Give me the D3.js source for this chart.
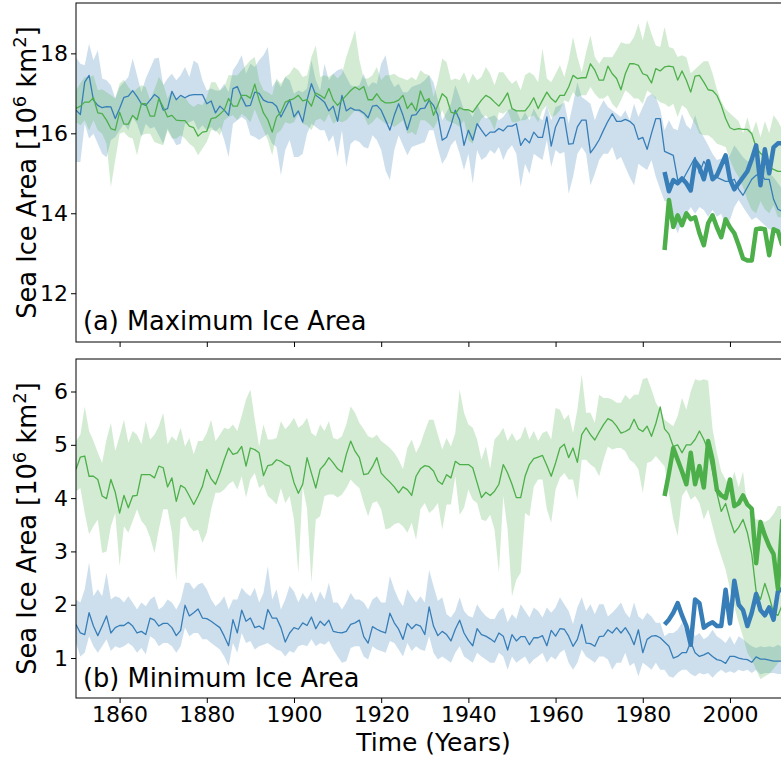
<!DOCTYPE html>
<html>
<head>
<meta charset="utf-8">
<script src="https://cdn.jsdelivr.net/npm/d3@7"></script>
<style>
body { margin: 0; background: #fff; }
svg { display: block; font-family: 'DejaVu Sans', sans-serif; }
</style>
</head>
<body>
<svg></svg>
<script>
// years of the model runs and of the observations
const years = d3.range(1850, 2013);
const obsYears = d3.range(1985, 2013);
const xTicks = [1860, 1880, 1900, 1920, 1940, 1960, 1980, 2000];

// (a) maximum ice area, 10^6 km^2
const aBlueMean = [
16.58,16.47,17.28,17.45,16.83,16.70,16.64,16.67,16.66,16.37,
16.62,16.90,16.93,17.07,16.92,16.74,16.70,16.83,16.97,16.89,
16.58,16.62,17.05,16.84,16.95,16.89,16.95,16.97,16.97,16.97,
16.74,16.81,16.51,16.68,16.58,16.45,17.12,17.17,16.90,16.68,
16.70,17.03,17.00,16.83,16.78,16.77,16.68,16.41,16.62,16.84,
16.41,16.56,16.28,16.83,17.24,16.95,16.87,16.78,16.56,16.68,
16.30,16.95,16.56,16.64,16.58,16.58,16.51,16.39,16.68,16.70,
16.58,16.33,16.08,16.45,16.74,16.45,16.09,16.45,16.47,16.62,
16.63,16.83,16.70,16.45,15.83,15.90,16.20,16.58,16.33,15.70,
16.08,15.83,16.24,16.08,15.93,16.03,16.03,16.12,16.06,16.18,
16.18,16.24,15.70,15.87,15.76,16.03,15.90,15.90,16.41,15.68,
16.16,16.39,16.39,15.73,15.74,16.16,16.33,16.33,15.51,15.66,
15.84,16.08,16.30,16.49,16.30,16.30,16.35,16.30,16.20,15.85,
15.90,15.60,16.00,16.37,16.37,15.55,15.50,15.45,14.85,14.80,
15.00,15.20,15.40,15.00,15.30,15.10,14.90,14.90,14.85,14.80,
14.80,14.85,14.60,14.45,14.65,14.85,14.95,15.00,14.85,14.85,
14.35,14.10,14.05];
const aBlueHi = [
17.90,17.74,17.70,18.24,17.83,18.08,17.37,17.33,17.20,16.87,
17.16,17.28,17.41,17.87,17.45,17.03,17.37,17.62,17.87,17.89,
17.20,17.37,17.49,17.33,17.45,17.66,17.41,17.82,17.74,17.33,
17.07,17.12,17.07,17.07,17.24,17.03,17.58,17.74,17.95,17.49,
17.74,17.66,17.83,17.95,18.16,17.16,17.33,17.16,17.41,17.33,
16.99,17.07,17.03,17.12,17.83,17.33,17.07,17.74,17.33,17.49,
17.58,17.62,17.41,17.20,17.16,17.20,17.49,17.16,17.28,17.24,
17.74,17.95,17.37,17.16,17.24,17.03,17.03,17.16,17.20,17.24,
17.33,17.45,17.28,16.83,16.33,16.53,16.74,17.20,16.91,16.58,
16.58,16.41,16.74,16.49,16.37,16.41,16.45,16.33,16.41,16.58,
16.62,16.58,16.33,16.53,16.33,16.62,16.41,16.33,16.70,16.33,
16.66,16.70,16.78,16.24,16.74,17.28,16.91,16.83,16.74,16.33,
16.62,16.83,16.66,16.58,16.49,16.41,16.58,16.33,16.74,16.41,
16.66,16.91,16.99,16.90,16.60,16.08,16.33,16.12,16.08,16.49,
16.20,16.10,16.45,16.10,15.90,15.70,15.49,15.33,15.37,15.33,
15.45,15.70,15.55,15.40,15.30,15.30,15.40,15.10,15.20,15.00,
14.90,14.75,14.60];
const aBlueLo = [
15.28,15.28,16.24,15.87,15.99,15.74,15.49,15.40,15.83,15.91,
16.08,16.24,16.08,16.41,16.24,15.91,16.24,16.12,16.16,15.95,
15.74,16.12,15.91,15.70,15.74,16.24,16.28,16.33,16.08,16.20,
16.08,16.16,16.03,16.16,15.83,15.41,16.24,16.33,16.41,16.33,
15.95,15.91,15.83,15.91,15.99,15.74,15.66,14.95,15.58,15.83,
15.41,15.41,15.49,15.99,16.24,16.16,16.08,16.08,15.78,15.95,
15.41,16.08,15.16,15.74,15.83,15.78,15.66,15.62,15.95,15.83,
15.58,15.07,14.83,15.58,15.95,15.70,15.45,15.66,15.70,15.74,
15.78,16.08,16.08,15.62,15.24,15.41,15.70,15.83,15.49,15.08,
15.49,14.74,15.58,15.33,15.41,15.58,15.49,15.66,15.33,15.58,
15.70,15.49,14.66,15.24,14.99,15.49,15.41,15.33,15.83,15.16,
15.58,15.49,15.53,14.49,14.91,15.49,15.66,15.49,14.70,14.99,
15.33,15.49,15.49,15.66,15.33,15.41,15.16,14.91,14.70,15.24,
15.16,15.08,15.33,14.91,14.60,14.30,14.30,13.80,13.50,13.80,
13.99,14.16,13.99,14.16,14.08,13.91,14.08,13.91,13.99,13.66,
13.83,14.16,14.33,14.16,13.99,13.83,13.90,13.80,13.70,13.60,
13.60,13.50,13.50];
const aGreenMean = [
16.62,16.68,16.78,16.78,16.89,16.51,16.49,16.33,16.12,16.08,
16.53,16.23,16.23,16.45,16.34,16.74,16.74,16.43,16.43,16.87,
16.66,16.41,16.45,16.33,16.32,16.32,16.18,16.14,15.93,16.03,
16.05,16.37,16.39,16.48,16.58,16.87,16.68,16.68,16.95,16.95,
16.88,17.23,16.83,16.51,16.34,16.03,16.41,16.53,16.78,16.83,
16.87,16.95,16.81,16.84,16.68,17.01,16.95,16.87,17.12,16.83,
16.70,16.83,16.95,17.07,17.16,17.09,17.17,16.84,16.84,16.99,
16.83,16.76,16.76,16.78,16.83,16.95,16.62,16.76,16.56,17.06,
16.80,16.87,16.45,16.70,16.99,16.89,16.53,16.49,16.64,16.59,
16.59,16.53,16.68,16.83,16.95,16.89,16.78,16.68,16.83,17.01,
16.62,16.56,16.56,16.56,16.70,16.89,16.62,16.83,17.03,16.87,
16.78,16.95,16.95,17.16,17.45,17.37,17.39,17.39,17.74,17.58,
17.33,17.33,17.68,17.49,17.37,17.09,17.49,17.74,17.74,17.70,
17.49,17.45,17.26,17.62,17.56,17.66,17.68,17.66,17.33,17.56,
17.33,17.03,17.43,17.45,17.28,17.09,17.07,16.95,16.70,16.37,
16.14,16.09,16.12,16.10,16.10,15.99,15.65,15.50,15.40,15.15,
15.10,15.05,15.05];
const aGreenHi = [
17.08,17.25,17.41,17.40,17.45,17.08,17.10,17.03,16.95,16.87,
17.24,17.34,17.16,17.03,17.12,17.20,17.16,16.83,17.10,17.41,
17.24,16.87,17.07,16.83,16.90,16.91,16.74,16.66,16.74,16.70,
16.91,17.28,17.28,17.07,17.16,17.45,17.45,17.45,17.58,17.70,
17.83,17.91,17.33,17.08,17.03,16.95,17.37,17.24,17.41,17.49,
17.66,17.58,17.41,17.45,17.91,18.20,17.41,17.45,17.41,17.49,
17.37,17.49,17.91,18.24,18.58,17.83,17.37,17.37,17.45,17.66,
17.33,17.45,17.45,17.49,17.41,17.37,17.33,17.41,17.33,17.58,
17.49,17.45,16.91,17.33,17.87,17.78,17.33,17.37,17.33,17.53,
17.24,17.49,17.33,17.41,17.66,17.49,17.20,17.53,17.53,17.37,
17.24,17.33,17.08,17.45,17.53,17.45,17.28,18.12,17.37,17.28,
17.49,17.70,17.41,17.83,18.41,17.91,17.53,18.03,18.45,17.91,
17.74,17.91,17.90,17.90,18.08,18.28,18.24,18.24,18.41,18.74,
18.33,18.83,18.49,18.20,18.16,18.66,18.16,18.12,17.91,17.95,
17.90,17.50,17.60,17.70,17.80,17.80,17.50,17.10,16.80,16.60,
16.50,16.40,16.30,16.00,16.40,16.00,16.30,15.90,16.30,16.00,
16.45,16.30,16.10];
const aGreenLo = [
16.28,16.20,16.33,16.08,16.33,16.08,15.99,15.74,14.66,15.33,
15.99,16.03,15.91,15.87,15.45,15.95,15.99,15.99,15.78,15.74,
15.70,16.08,15.87,15.87,15.95,15.87,15.74,15.66,15.45,15.62,
15.78,16.08,16.08,15.95,16.33,16.41,16.45,16.33,16.49,16.41,
16.28,16.60,16.33,16.08,15.83,15.45,15.99,16.08,16.28,16.24,
16.28,16.49,16.24,16.20,16.08,16.33,16.37,16.28,16.49,16.24,
16.33,16.28,16.33,16.45,16.58,16.53,16.45,16.20,16.28,16.41,
16.33,16.24,16.24,16.16,16.24,16.33,15.99,16.03,15.95,16.33,
16.33,16.24,16.12,16.33,16.58,16.33,16.28,16.24,16.16,16.33,
15.83,15.74,16.16,16.37,16.45,16.33,16.08,16.53,16.49,16.58,
16.28,16.28,16.33,16.33,16.41,16.45,16.28,16.58,16.70,16.41,
16.45,16.58,16.83,16.78,17.03,16.91,16.95,16.95,17.16,16.99,
16.87,16.87,16.95,16.74,16.62,16.83,17.08,16.99,16.87,16.87,
16.74,17.07,16.99,16.87,16.78,16.74,16.66,16.74,16.41,16.70,
16.62,16.41,16.24,15.99,15.95,15.95,15.87,15.74,15.70,15.66,
15.33,15.08,14.91,14.66,14.33,14.08,14.00,14.30,14.10,14.00,
14.20,13.90,13.90];
const aBlueObs = [15.03,14.55,14.83,14.75,14.87,14.75,14.57,15.30,15.15,14.85,
15.30,14.85,14.95,15.20,15.45,14.85,14.60,14.75,14.90,15.05,
15.35,15.70,14.70,15.60,15.00,15.65,15.75,15.75];
const aGreenObs = [13.08,14.33,13.66,13.95,13.70,14.00,13.85,13.90,13.50,13.20,
13.75,13.95,13.65,13.40,13.85,13.65,13.50,13.20,12.87,12.82,
12.82,13.60,13.62,13.60,12.95,13.60,13.55,13.20];

// (b) minimum ice area, 10^6 km^2
const bBlueMean = [
1.63,1.47,1.44,1.85,1.60,1.42,1.60,1.79,1.47,1.57,
1.61,1.61,1.67,1.60,1.47,1.50,1.44,1.75,1.71,1.60,
1.65,1.65,1.57,1.42,1.52,1.99,1.79,1.85,1.92,1.75,
1.74,1.69,1.63,1.57,1.41,1.23,1.72,1.47,1.90,1.69,
1.75,1.57,1.60,1.54,1.91,1.75,1.75,1.57,1.30,1.47,
1.57,1.54,1.66,1.61,1.77,1.55,1.69,1.61,1.71,1.50,
1.48,1.47,1.50,1.63,1.66,1.71,1.40,1.28,1.59,1.54,
1.50,1.47,1.84,1.66,1.54,1.35,1.65,1.55,1.63,1.60,
1.44,1.96,1.60,1.42,1.50,1.44,1.32,1.54,1.71,1.47,
1.33,1.23,1.55,1.44,1.41,1.36,1.30,1.47,1.41,1.15,
1.44,1.32,1.40,1.40,1.25,1.38,1.38,1.42,1.23,1.52,
1.41,1.55,1.54,1.41,1.22,1.35,1.63,1.28,1.27,1.22,
1.40,1.41,1.53,1.47,1.57,1.47,1.57,1.44,1.25,1.53,
1.10,1.35,1.41,1.42,1.38,1.30,1.22,1.00,1.03,1.10,
1.10,1.30,1.10,1.03,1.06,1.10,1.03,0.97,0.95,0.90,
1.03,1.03,1.00,0.98,0.97,0.92,1.02,0.98,0.98,0.96,
0.94,0.94,0.94];
const bBlueHi = [
2.10,2.04,2.29,2.79,2.16,2.29,2.16,2.60,2.10,2.16,
2.13,2.04,2.16,2.04,1.91,2.04,1.97,2.10,2.16,1.91,
1.97,2.10,2.04,1.91,2.07,2.41,2.41,2.29,2.38,2.41,
2.29,2.10,1.97,2.04,2.16,1.91,2.10,2.10,2.32,2.22,
2.16,2.32,2.04,2.22,2.72,2.10,2.29,1.91,2.10,2.35,
2.25,2.04,2.22,2.10,2.25,2.04,2.25,2.10,2.41,2.04,
2.04,1.91,2.04,2.22,2.10,2.10,2.04,1.91,2.10,2.16,
2.04,2.04,2.54,2.29,2.10,1.97,2.29,2.16,2.04,2.16,
2.04,2.65,2.35,2.07,2.14,1.82,1.76,1.88,2.14,1.88,
1.79,1.76,2.01,1.88,1.79,1.73,1.73,1.88,1.95,1.67,
1.82,1.73,2.01,1.88,1.76,1.95,1.88,1.76,1.95,1.85,
1.95,2.14,2.01,1.88,1.64,1.95,2.14,1.88,2.01,1.82,
2.01,2.01,1.78,1.85,1.94,2.04,1.85,1.75,2.04,1.78,
1.72,1.85,1.78,1.66,1.66,1.41,1.47,1.47,1.53,1.66,
1.47,1.60,1.41,1.47,1.35,1.41,1.53,1.41,1.35,1.28,
1.41,1.25,1.41,1.35,1.28,1.22,1.19,1.22,1.20,1.22,
1.20,1.25,1.20];
const bBlueLo = [
1.28,1.03,1.10,1.41,1.22,1.10,1.22,1.35,1.13,1.22,
1.19,1.22,1.28,1.22,1.10,1.19,1.07,1.41,1.35,1.22,
1.28,1.28,1.22,1.10,1.22,1.57,1.41,1.47,1.47,1.35,
1.35,1.28,1.22,1.16,1.03,0.85,1.28,1.10,1.47,1.28,
1.32,1.16,1.22,1.25,1.28,1.22,1.16,1.13,1.03,1.13,
1.10,1.22,1.25,1.22,1.35,1.22,1.28,1.25,1.32,1.16,
1.03,0.91,0.94,1.19,1.22,1.22,1.03,0.97,1.22,1.16,
1.13,1.10,1.32,1.28,1.16,1.03,1.28,1.13,1.22,1.16,
1.13,1.41,1.10,0.97,1.03,0.97,0.91,1.10,1.22,1.03,
0.97,0.91,1.10,1.03,0.97,0.91,0.91,1.10,1.03,0.78,
1.03,0.91,0.97,1.03,0.88,0.97,1.03,1.10,0.91,1.03,
0.97,1.10,1.16,0.91,0.78,0.91,1.16,1.03,0.97,0.91,
1.03,1.03,0.97,0.78,0.91,0.91,1.10,0.85,0.91,0.66,
0.91,0.85,0.78,0.91,0.78,0.78,0.66,0.63,0.72,0.78,
0.78,0.70,0.66,0.72,0.69,0.72,0.63,0.72,0.78,0.72,
0.75,0.72,0.78,0.75,0.78,0.72,0.78,0.69,0.72,0.72,
0.72,0.70,0.70];
const bGreenMean = [
4.54,4.77,4.79,4.41,4.41,4.35,4.04,3.99,4.35,4.11,
3.72,4.05,3.82,4.04,4.05,4.44,4.44,4.44,4.38,4.60,
4.57,4.21,4.38,3.94,4.24,4.19,4.04,3.88,4.04,4.22,
4.54,4.36,4.26,4.47,4.72,4.94,4.82,4.85,4.97,4.60,
4.94,4.91,4.85,4.42,4.61,4.63,4.72,4.69,4.63,4.60,
4.29,4.09,4.26,4.76,4.47,4.19,4.54,4.63,4.76,4.66,
4.55,4.49,4.82,5.07,4.88,4.76,4.44,4.46,4.59,4.76,
4.47,4.38,4.30,4.21,4.10,4.21,4.16,4.05,4.41,4.55,
4.61,4.59,4.51,4.32,4.26,4.44,4.38,4.69,4.63,4.63,
4.63,4.57,4.29,4.01,4.11,4.05,4.13,4.26,4.63,4.47,
4.26,4.01,4.01,4.41,4.63,4.74,4.77,4.80,4.61,4.41,
4.66,4.94,5.01,4.76,4.94,4.67,5.19,5.32,5.19,5.09,
5.24,5.38,5.49,5.45,5.35,5.22,5.25,5.30,5.48,5.30,
5.25,5.35,5.16,5.40,5.71,5.30,5.20,4.97,5.00,4.85,
5.00,5.00,5.10,5.26,5.10,4.90,4.50,4.10,3.75,3.90,
3.60,3.35,3.45,3.60,3.35,2.95,2.25,2.10,2.40,2.15,
1.85,1.80,2.00];
const bGreenHi = [
5.07,5.19,5.72,5.26,5.07,4.85,4.66,5.10,5.41,4.88,
5.16,5.47,5.04,5.26,5.19,5.01,5.44,5.10,5.19,5.35,
5.60,5.01,5.16,5.07,5.32,4.97,5.13,4.82,5.07,5.07,
5.22,5.47,5.07,5.19,5.32,5.29,5.38,5.26,5.54,5.85,
6.04,5.47,4.97,5.38,5.10,5.10,5.13,5.44,5.29,5.38,
5.51,5.32,5.38,5.51,5.22,5.16,5.38,5.26,5.44,5.13,
5.10,5.16,5.38,5.72,5.60,5.41,5.29,5.16,5.13,5.19,
5.07,5.01,4.94,4.85,4.72,4.54,4.94,5.10,4.85,5.01,
5.26,5.47,5.47,5.19,4.91,5.13,4.97,5.22,6.04,5.60,
5.38,5.32,5.10,4.72,4.97,4.54,5.10,5.19,5.32,5.07,
5.22,5.07,5.13,5.35,5.10,5.26,5.07,5.22,5.26,5.10,
5.69,5.66,5.47,5.57,5.22,5.66,6.32,5.60,5.60,5.41,
5.94,5.88,5.88,5.85,5.79,5.79,5.94,5.85,5.94,5.94,
6.23,6.26,6.04,5.79,5.66,5.47,5.41,5.35,5.54,5.88,
5.66,6.00,6.23,6.20,6.23,6.20,5.30,4.85,4.50,4.35,
4.20,4.50,4.20,4.50,3.80,3.70,3.60,3.60,3.55,3.60,
3.70,3.85,3.85];
const bGreenLo = [
4.13,4.19,3.72,3.32,3.47,3.60,2.97,3.00,3.47,3.72,
2.72,3.47,3.35,3.57,3.79,3.57,3.47,3.26,2.97,3.41,
3.79,3.79,3.35,2.45,3.60,3.66,3.47,3.38,3.41,3.16,
3.35,3.79,4.10,4.10,4.16,4.26,4.32,4.16,4.41,4.01,
4.35,4.47,4.19,4.26,4.04,3.97,3.88,4.19,3.91,4.04,
3.60,2.60,4.22,3.80,2.41,3.60,3.66,4.04,4.07,4.07,
4.01,4.07,4.19,4.35,4.26,4.19,3.91,3.66,3.91,3.94,
3.79,3.41,3.44,3.51,3.54,3.47,3.35,3.54,3.22,3.79,
3.91,3.72,3.79,3.91,3.41,3.88,3.88,4.41,3.69,3.82,
4.16,3.97,3.91,3.60,3.57,3.69,3.41,2.60,4.04,3.41,
2.16,2.47,2.60,3.72,3.66,4.22,4.35,4.35,3.79,3.54,
4.16,4.38,4.47,4.35,4.35,3.97,4.72,4.72,4.63,4.57,
4.41,4.72,4.97,4.91,4.94,4.94,4.88,4.72,4.66,4.54,
4.10,4.66,4.69,4.79,4.69,4.60,4.10,3.60,3.29,4.04,
4.16,3.97,4.04,3.91,3.60,3.79,3.47,3.16,2.91,2.66,
2.29,1.97,1.66,1.40,1.10,0.97,0.78,0.60,0.66,0.70,
0.80,0.90,1.00];
const bBlueObs = [1.63,1.72,1.85,2.03,1.80,1.60,1.25,2.10,2.03,1.57,
1.63,1.67,1.60,1.60,2.28,1.65,2.45,2.00,1.90,1.60,
1.85,2.20,1.90,1.80,1.95,1.72,2.25,2.30];
const bGreenObs = [4.04,4.47,4.94,4.72,4.50,4.26,4.85,4.26,4.60,4.20,
5.07,4.72,4.15,4.05,4.00,4.35,3.85,3.90,4.05,3.88,
3.80,2.78,3.55,3.30,3.10,2.95,2.30,3.60];

let w = 781;
let h = 759;
const left = 76;
const right = 791;
const blue = '#377eb8';
const green = '#4daf4a';
const font = "'DejaVu Sans', sans-serif";

const svg = d3.select('svg')
  .attr('width', w)
  .attr('height', h)

const x = d3.scaleLinear()
  .domain([1850, 2014])
  .range([left, right])

function styleAxis(g) {
  g.style('font-family', font).style('font-size', '22px')
  g.select('.domain').remove()
  g.selectAll('.tick line').attr('stroke', '#000').attr('stroke-width', 1)
  g.selectAll('.tick text')
    .attr('fill', '#000')
    .style('font-family', font)
    .style('font-size', '22px')
}

function drawPanel(p) {
  const y = d3.scaleLinear()
    .domain(p.yDomain)
    .range([p.bottom, p.top])

  svg.append('clipPath')
    .attr('id', 'clip-' + p.id)
    .append('rect')
    .attr('x', left)
    .attr('y', p.top)
    .attr('width', right - left)
    .attr('height', p.bottom - p.top)

  const plot = svg.append('g').attr('clip-path', 'url(#clip-' + p.id + ')')

  const area = d3.area()
    .x(d => x(d[0]))
    .y0(d => y(d[1]))
    .y1(d => y(d[2]))
  const line = d3.line()
    .x(d => x(d[0]))
    .y(d => y(d[1]))

  // spread between runs
  p.bands.forEach(b => {
    plot.append('path')
      .datum(years.map((yr, i) => [yr, b.lo[i], b.hi[i]]))
      .attr('d', area)
      .attr('fill', b.color)
      .attr('fill-opacity', 0.25)
  })

  // ensemble means
  p.means.forEach(m => {
    plot.append('path')
      .datum(years.map((yr, i) => [yr, m.v[i]]))
      .attr('d', line)
      .attr('fill', 'none')
      .attr('stroke', m.color)
      .attr('stroke-width', 1.3)
      .attr('stroke-linejoin', 'round')
  })

  // observations
  p.obs.forEach(o => {
    plot.append('path')
      .datum(obsYears.map((yr, i) => [yr, o.v[i]]))
      .attr('d', line)
      .attr('fill', 'none')
      .attr('stroke', o.color)
      .attr('stroke-width', 4.5)
      .attr('stroke-linejoin', 'round')
  })

  // frame
  svg.append('rect')
    .attr('x', left)
    .attr('y', p.top)
    .attr('width', right - left)
    .attr('height', p.bottom - p.top)
    .attr('fill', 'none')
    .attr('stroke', '#000')
    .attr('stroke-width', 1)

  const yAxis = d3.axisLeft(y)
    .tickValues(p.yTicks)
    .tickSize(5)
    .tickPadding(3)
    .tickFormat(d3.format('d'))
  svg.append('g')
    .attr('transform', 'translate(' + left + ',0)')
    .call(yAxis)
    .call(styleAxis)

  const xAxis = d3.axisBottom(x)
    .tickValues(xTicks)
    .tickSize(5)
    .tickPadding(3)
    .tickFormat(p.xLabels ? d3.format('d') : '')
  svg.append('g')
    .attr('transform', 'translate(0,' + p.bottom + ')')
    .call(xAxis)
    .call(styleAxis)

  // y label with superscripts
  const yl = svg.append('text')
    .attr('transform', 'translate(35.5,' + ((p.top + p.bottom) / 2) + ') rotate(-90)')
    .attr('text-anchor', 'middle')
    .style('font-size', '25.7px')
    .style('white-space', 'pre')
  yl.append('tspan').text('Sea Ice Area [10')
  yl.append('tspan').attr('dy', -10).style('font-size', '18px').text('6')
  yl.append('tspan').attr('dy', 10).text(' km')
  yl.append('tspan').attr('dy', -10).style('font-size', '18px').text('2')
  yl.append('tspan').attr('dy', 10).text(']')

  svg.append('text')
    .attr('x', 83)
    .attr('y', p.labelY)
    .style('font-size', '25.7px')
    .text(p.label)
}

drawPanel({
  id: 'a', top: 3, bottom: 342,
  yDomain: [10.78, 19.26], yTicks: [12, 14, 16, 18],
  bands: [{lo: aBlueLo, hi: aBlueHi, color: blue}, {lo: aGreenLo, hi: aGreenHi, color: green}],
  means: [{v: aBlueMean, color: blue}, {v: aGreenMean, color: green}],
  obs: [{v: aBlueObs, color: blue}, {v: aGreenObs, color: green}],
  label: '(a) Maximum Ice Area', labelY: 330, xLabels: false
})

drawPanel({
  id: 'b', top: 359, bottom: 698,
  yDomain: [0.25, 6.61], yTicks: [1, 2, 3, 4, 5, 6],
  bands: [{lo: bBlueLo, hi: bBlueHi, color: blue}, {lo: bGreenLo, hi: bGreenHi, color: green}],
  means: [{v: bBlueMean, color: blue}, {v: bGreenMean, color: green}],
  obs: [{v: bBlueObs, color: blue}, {v: bGreenObs, color: green}],
  label: '(b) Minimum Ice Area', labelY: 687, xLabels: true
})

svg.append('text')
  .attr('x', (left + right) / 2)
  .attr('y', 750.5)
  .attr('text-anchor', 'middle')
  .style('font-size', '25px')
  .text('Time (Years)')
</script>
</body>
</html>
